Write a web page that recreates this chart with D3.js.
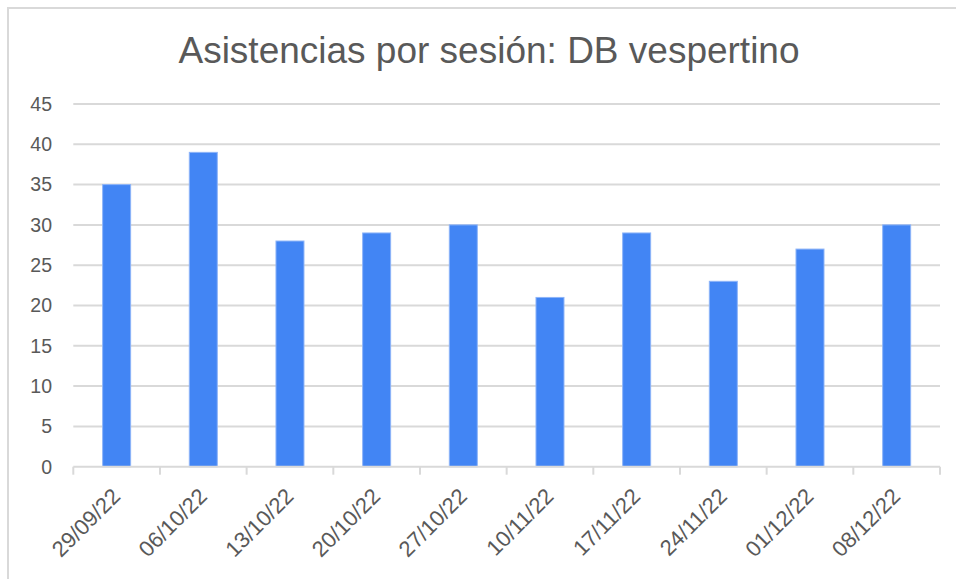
<!DOCTYPE html>
<html>
<head>
<meta charset="utf-8">
<script src="https://cdn.jsdelivr.net/npm/d3@7/dist/d3.min.js"></script>
<style>
  html, body { margin: 0; padding: 0; background: #fff; }
  text { font-family: "Liberation Sans", Arial, sans-serif; fill: #595959; }
</style>
</head>
<body>
<svg id="chart" width="956" height="579"></svg>
<script>
const title = "Asistencias por sesión: DB vespertino";
const categories = ["29/09/22","06/10/22","13/10/22","20/10/22","27/10/22","10/11/22","17/11/22","24/11/22","01/12/22","08/12/22"];
const values = [35, 39, 28, 29, 30, 21, 29, 23, 27, 30];
const yTicks = [0, 5, 10, 15, 20, 25, 30, 35, 40, 45];

const svg = d3.select("#chart");
const W = 956, H = 579;
const plot = { left: 73.3, right: 940, top: 104, bottom: 466.7 };

svg.append("rect").attr("x", 8).attr("y", 8).attr("width", W + 10).attr("height", H + 10)
  .attr("fill", "#fff").attr("stroke", "#d9d9d9").attr("stroke-width", 2);

const x = d3.scaleBand().domain(categories).range([plot.left, plot.right]).paddingInner(0.677).paddingOuter(0.3385);
const y = d3.scaleLinear().domain([0, 45]).range([plot.bottom, plot.top]);

// gridlines
svg.append("g").selectAll("line").data(yTicks.filter(d => d > 0)).join("line")
  .attr("x1", plot.left).attr("x2", plot.right)
  .attr("y1", d => y(d)).attr("y2", d => y(d))
  .attr("stroke", "#d9d9d9").attr("stroke-width", 2);

// y labels
svg.append("g").selectAll("text").data(yTicks).join("text")
  .attr("x", 52).attr("y", d => y(d)).attr("dy", "0.35em")
  .attr("text-anchor", "end").attr("font-size", 19.5).text(d => d);

// bars
svg.append("g").selectAll("rect").data(values).join("rect")
  .attr("x", (d, i) => x(categories[i]))
  .attr("width", x.bandwidth())
  .attr("y", d => y(d))
  .attr("height", d => y(0) - y(d))
  .attr("fill", "#4285f4").attr("stroke", "#8db4f8").attr("stroke-width", 1);

// x axis line and ticks
const step = x.step();
svg.append("line").attr("x1", plot.left).attr("x2", plot.right)
  .attr("y1", plot.bottom).attr("y2", plot.bottom)
  .attr("stroke", "#d9d9d9").attr("stroke-width", 2);
const boundaries = d3.range(categories.length + 1).map(i => plot.left + i * step);
svg.append("g").selectAll("line").data(boundaries).join("line")
  .attr("x1", d => d).attr("x2", d => d)
  .attr("y1", plot.bottom).attr("y2", plot.bottom + 8)
  .attr("stroke", "#d9d9d9").attr("stroke-width", 2);

// x labels
svg.append("g").selectAll("text").data(categories).join("text")
  .attr("transform", d => `translate(${x(d) + x.bandwidth() / 2 + 5},${plot.bottom + 31}) rotate(-45)`)
  .attr("text-anchor", "end").attr("font-size", 22).text(d => d);

// title
svg.append("text").attr("x", 489).attr("y", 63).attr("text-anchor", "middle")
  .attr("font-size", 37).text(title);
</script>
</body>
</html>
